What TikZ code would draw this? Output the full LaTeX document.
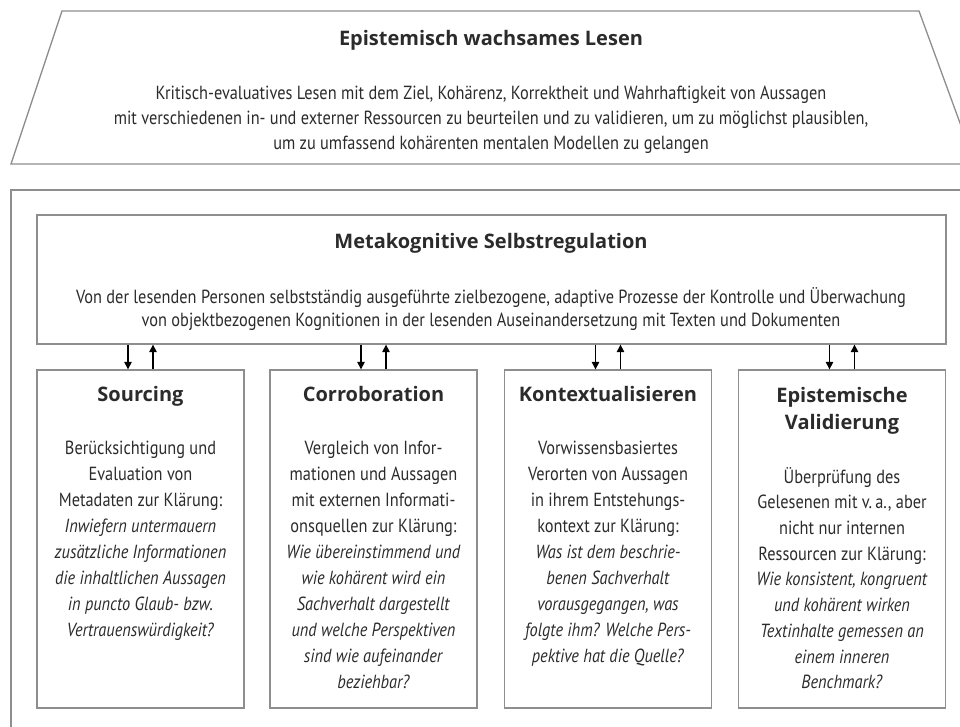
\documentclass[tikz,border=0pt]{standalone}
\usepackage{fontspec}
\setmainfont{PT Sans}[FakeStretch=0.86]
\newfontfamily\headfont{Open Sans}
\usepackage{xcolor}
\usepackage{tikz}
\usetikzlibrary{arrows.meta}
\definecolor{frame}{HTML}{8E8E8E}
\definecolor{ink}{HTML}{2B2B2B}
\tikzset{
  frm/.style={draw=frame,line width=1.3pt},
  pbox/.style={frm,minimum width=207pt,minimum height=338pt,inner sep=0pt},
  ttl/.style={font=\headfont\fontsize{20}{27}\selectfont\bfseries,text=ink,align=center,inner sep=0pt},
  txt/.style={font=\fontsize{19}{26}\selectfont,text=ink,align=center,inner sep=0pt,anchor=north},
  arr/.style={line width=1.2pt,-{Triangle[length=7.5pt,width=7.5pt]}}
}

\begin{document}
\begin{tikzpicture}[x=1pt,y=-1pt]
\useasboundingbox (0,0) rectangle (960,727);
\clip (0,0) rectangle (960,727);
\draw[frm] (62,11) -- (919,11) -- (975,164) -- (11,164) -- cycle;
\node[ttl,anchor=base] (lesenT) at (491,46) {Epistemisch wachsames Lesen};
\node[txt,font=\fontsize{19}{25}\selectfont] (lesen) at (491,85.5) {Kritisch-evaluatives Lesen mit dem Ziel, Kohärenz, Korrektheit und Wahrhaftigkeit von Aussagen\\mit verschiedenen in- und externer Ressourcen zu beurteilen und zu validieren, um zu möglichst plausiblen,\\um zu umfassend kohärenten mentalen Modellen zu gelangen};

\draw[frm] (975,190) -- (11,190) -- (11,740);
\node[frm,minimum width=909pt,minimum height=129pt,inner sep=0pt] (meta) at (491.5,279.5) {};
\node[ttl,anchor=base] (metaT) at (491,248) {Metakognitive Selbstregulation};
\node[txt,font=\fontsize{19}{23.5}\selectfont] (metaB) at (491,287) {Von der lesenden Personen selbstständig ausgeführte zielbezogene, adaptive Prozesse der Kontrolle und Überwachung\\von objektbezogenen Kognitionen in der lesenden Auseinandersetzung mit Texten und Dokumenten};

\node[pbox] (src) at (140.5,539) {};
\node[pbox] (cor) at (373.5,539) {};
\node[pbox] (ktx) at (608,539) {};
\node[pbox] (val) at (842,539) {};

\node[ttl,anchor=base] (srcT) at (140.5,401) {Sourcing};
\node[ttl,anchor=base] (corT) at (373.5,401) {Corroboration};
\node[ttl,anchor=base] (ktxT) at (608,401) {Kontextualisieren};
\node[ttl,anchor=north] (valT) at (842,387) {Epistemische\\Validierung};

\node[txt] (srcB) at (140.5,441) {Berücksichtigung und\\Evaluation von\\Metadaten zur Klärung:\\\textit{Inwiefern untermauern}\\\textit{zusätzliche Informationen}\\\textit{die inhaltlichen Aussagen}\\\textit{in puncto Glaub- bzw.}\\\textit{Vertrauenswürdigkeit?}};
\node[txt] (corB) at (373.5,441) {Vergleich von Infor-\\mationen und Aussagen\\mit externen Informati-\\onsquellen zur Klärung:\\\textit{Wie übereinstimmend und}\\\textit{wie kohärent wird ein}\\\textit{Sachverhalt dargestellt}\\\textit{und welche Perspektiven}\\\textit{sind wie aufeinander}\\\textit{beziehbar?}};
\node[txt] (ktxB) at (608,441) {Vorwissensbasiertes\\Verorten von Aussagen\\in ihrem Entstehungs-\\kontext zur Klärung:\\\textit{Was ist dem beschrie-}\\\textit{benen Sachverhalt}\\\textit{vorausgegangen, was}\\\textit{folgte ihm? Welche Pers-}\\\textit{pektive hat die Quelle?}};
\node[txt,font=\fontsize{19}{25.7}\selectfont] (valB) at (842,467) {Überprüfung des\\Gelesenen mit v.\,a., aber\\nicht nur internen\\Ressourcen zur Klärung:\\\textit{Wie konsistent, kongruent}\\\textit{und kohärent wirken}\\\textit{Textinhalte gemessen an}\\\textit{einem inneren}\\\textit{Benchmark?}};

\coordinate (srcd) at ([xshift=-12.5pt]src.north);
\coordinate (srcu) at ([xshift=12.5pt]src.north);
\coordinate (cord) at ([xshift=-12.5pt]cor.north);
\coordinate (coru) at ([xshift=12.5pt]cor.north);
\coordinate (ktxd) at ([xshift=-12.5pt]ktx.north);
\coordinate (ktxu) at ([xshift=12.5pt]ktx.north);
\coordinate (vald) at ([xshift=-12.5pt]val.north);
\coordinate (valu) at ([xshift=12.5pt]val.north);
\draw[arr] (srcd |- meta.south) -- (srcd);
\draw[arr] (srcu) -- (srcu |- meta.south);
\draw[arr] (cord |- meta.south) -- (cord);
\draw[arr] (coru) -- (coru |- meta.south);
\draw[arr] (ktxd |- meta.south) -- (ktxd);
\draw[arr] (ktxu) -- (ktxu |- meta.south);
\draw[arr] (vald |- meta.south) -- (vald);
\draw[arr] (valu) -- (valu |- meta.south);
\end{tikzpicture}
\end{document}
